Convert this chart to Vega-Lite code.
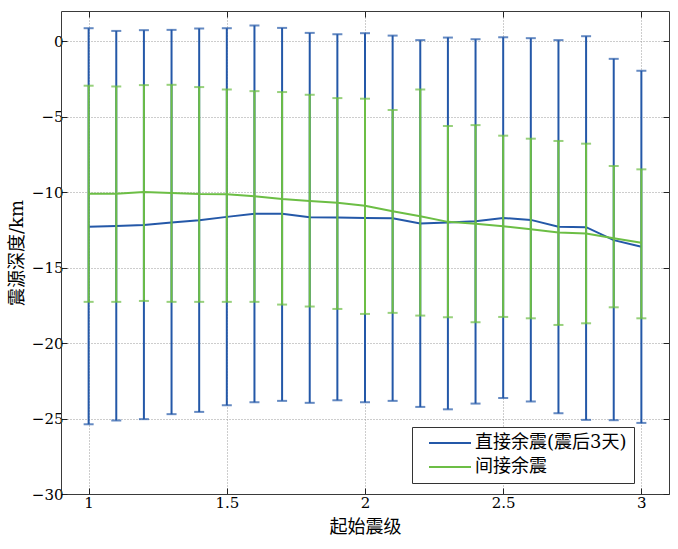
{
  "$schema": "https://vega.github.io/schema/vega-lite/v6.json",
  "autosize": "none",
  "width": 608,
  "height": 483,
  "padding": {"left": 61, "top": 11, "right": 9, "bottom": 55},
  "background": "white",
  "data": {
    "values": [
      {"m": 1.0, "s": "直接余震(震后3天)", "mean": -12.30, "lo": -25.38, "hi": 0.86},
      {"m": 1.1, "s": "直接余震(震后3天)", "mean": -12.24, "lo": -25.13, "hi": 0.68},
      {"m": 1.2, "s": "直接余震(震后3天)", "mean": -12.17, "lo": -25.04, "hi": 0.73},
      {"m": 1.3, "s": "直接余震(震后3天)", "mean": -12.01, "lo": -24.71, "hi": 0.75},
      {"m": 1.4, "s": "直接余震(震后3天)", "mean": -11.86, "lo": -24.56, "hi": 0.84},
      {"m": 1.5, "s": "直接余震(震后3天)", "mean": -11.64, "lo": -24.12, "hi": 0.86},
      {"m": 1.6, "s": "直接余震(震后3天)", "mean": -11.44, "lo": -23.92, "hi": 1.04},
      {"m": 1.7, "s": "直接余震(震后3天)", "mean": -11.44, "lo": -23.83, "hi": 0.88},
      {"m": 1.8, "s": "直接余震(震后3天)", "mean": -11.66, "lo": -23.96, "hi": 0.55},
      {"m": 1.9, "s": "直接余震(震后3天)", "mean": -11.68, "lo": -23.79, "hi": 0.46},
      {"m": 2.0, "s": "直接余震(震后3天)", "mean": -11.71, "lo": -23.92, "hi": 0.53},
      {"m": 2.1, "s": "直接余震(震后3天)", "mean": -11.73, "lo": -23.83, "hi": 0.37},
      {"m": 2.2, "s": "直接余震(震后3天)", "mean": -12.08, "lo": -24.23, "hi": 0.07},
      {"m": 2.3, "s": "直接余震(震后3天)", "mean": -12.01, "lo": -24.39, "hi": 0.24},
      {"m": 2.4, "s": "直接余震(震后3天)", "mean": -11.93, "lo": -24.01, "hi": 0.13},
      {"m": 2.5, "s": "直接余震(震后3天)", "mean": -11.71, "lo": -23.64, "hi": 0.26},
      {"m": 2.6, "s": "直接余震(震后3天)", "mean": -11.84, "lo": -23.87, "hi": 0.20},
      {"m": 2.7, "s": "直接余震(震后3天)", "mean": -12.30, "lo": -24.65, "hi": 0.07},
      {"m": 2.8, "s": "直接余震(震后3天)", "mean": -12.32, "lo": -25.09, "hi": 0.33},
      {"m": 2.9, "s": "直接余震(震后3天)", "mean": -13.18, "lo": -25.11, "hi": -1.17},
      {"m": 3.0, "s": "直接余震(震后3天)", "mean": -13.62, "lo": -25.29, "hi": -1.96},
      {"m": 1.0, "s": "间接余震", "mean": -10.10, "lo": -17.27, "hi": -2.95},
      {"m": 1.1, "s": "间接余震", "mean": -10.10, "lo": -17.27, "hi": -3.00},
      {"m": 1.2, "s": "间接余震", "mean": -9.99, "lo": -17.21, "hi": -2.91},
      {"m": 1.3, "s": "间接余震", "mean": -10.05, "lo": -17.27, "hi": -2.89},
      {"m": 1.4, "s": "间接余震", "mean": -10.12, "lo": -17.27, "hi": -3.04},
      {"m": 1.5, "s": "间接余震", "mean": -10.14, "lo": -17.27, "hi": -3.20},
      {"m": 1.6, "s": "间接余震", "mean": -10.27, "lo": -17.27, "hi": -3.31},
      {"m": 1.7, "s": "间接余震", "mean": -10.45, "lo": -17.45, "hi": -3.37},
      {"m": 1.8, "s": "间接余震", "mean": -10.58, "lo": -17.58, "hi": -3.55},
      {"m": 1.9, "s": "间接余震", "mean": -10.71, "lo": -17.74, "hi": -3.77},
      {"m": 2.0, "s": "间接余震", "mean": -10.91, "lo": -18.07, "hi": -3.81},
      {"m": 2.1, "s": "间接余震", "mean": -11.27, "lo": -18.00, "hi": -4.56},
      {"m": 2.2, "s": "间接余震", "mean": -11.60, "lo": -18.18, "hi": -3.20},
      {"m": 2.3, "s": "间接余震", "mean": -11.97, "lo": -18.29, "hi": -5.62},
      {"m": 2.4, "s": "间接余震", "mean": -12.10, "lo": -18.62, "hi": -5.56},
      {"m": 2.5, "s": "间接余震", "mean": -12.26, "lo": -18.27, "hi": -6.26},
      {"m": 2.6, "s": "间接余震", "mean": -12.46, "lo": -18.36, "hi": -6.46},
      {"m": 2.7, "s": "间接余震", "mean": -12.68, "lo": -18.80, "hi": -6.61},
      {"m": 2.8, "s": "间接余震", "mean": -12.74, "lo": -18.69, "hi": -6.79},
      {"m": 2.9, "s": "间接余震", "mean": -13.05, "lo": -17.63, "hi": -8.27},
      {"m": 3.0, "s": "间接余震", "mean": -13.36, "lo": -18.36, "hi": -8.49}
    ]
  },
  "config": {
    "view": {"stroke": null},
    "axis": {
      "domainColor": "#3a3a3a",
      "domainWidth": 1,
      "tickColor": "#222222",
      "tickSize": -6,
      "tickWidth": 1,
      "gridColor": "#9a9a9a",
      "gridDash": [1, 2],
      "gridOpacity": 1,
      "gridWidth": 1,
      "labelFont": "DejaVu Serif",
      "labelFontSize": 15,
      "labelColor": "black",
      "titleFont": "DejaVu Serif, Noto Sans CJK SC",
      "titleFontSize": 18,
      "titleFontWeight": "normal",
      "titleColor": "black"
    },
    "tick": {"thickness": 2, "size": 10},
    "legend": {
      "orient": "none",
      "legendX": 351,
      "legendY": 416,
      "symbolType": "M-3,0H3",
      "symbolSize": 196,
      "symbolStrokeWidth": 2,
      "symbolOffset": 22,
      "labelOffset": 16,
      "labelFont": "DejaVu Serif, Noto Sans CJK SC",
      "labelFontSize": 18,
      "labelColor": "black",
      "labelLimit": 400,
      "strokeColor": "#333333",
      "fillColor": "white",
      "padding": 7,
      "rowPadding": 6
    }
  },
  "resolve": {"axis": {"x": "independent", "y": "independent"}},
  "layer": [
    {
      "transform": [{"filter": "datum.s === '直接余震(震后3天)'"}],
      "mark": {"type": "rule", "strokeWidth": 2, "color": "#2458A8"},
      "encoding": {
        "x": {"field": "m", "type": "quantitative", "scale": {"domain": [0.9, 3.1], "nice": false, "zero": false},
              "axis": {"orient": "bottom", "values": [1, 1.5, 2, 2.5, 3], "format": "~g", "title": "起始震级", "labelPadding": 7, "titlePadding": 8}},
        "y": {"field": "lo", "type": "quantitative", "scale": {"domain": [-30, 2], "nice": false, "zero": false},
              "axis": {"orient": "left", "values": [-30, -25, -20, -15, -10, -5, 0], "title": "震源深度/km", "labelPadding": 4, "titlePadding": 5}},
        "y2": {"field": "hi"}
      }
    },
    {
      "transform": [{"filter": "datum.s === '直接余震(震后3天)'"}],
      "mark": {"type": "tick", "orient": "horizontal", "color": "#2458A8"},
      "encoding": {
        "x": {"field": "m", "type": "quantitative", "axis": null},
        "y": {"field": "lo", "type": "quantitative", "axis": null}
      }
    },
    {
      "transform": [{"filter": "datum.s === '直接余震(震后3天)'"}],
      "mark": {"type": "tick", "orient": "horizontal", "color": "#2458A8"},
      "encoding": {
        "x": {"field": "m", "type": "quantitative", "axis": null},
        "y": {"field": "hi", "type": "quantitative", "axis": null}
      }
    },
    {
      "transform": [{"filter": "datum.s === '直接余震(震后3天)'"}],
      "mark": {"type": "line", "strokeWidth": 2},
      "encoding": {
        "x": {"field": "m", "type": "quantitative", "axis": null},
        "y": {"field": "mean", "type": "quantitative", "axis": null},
        "color": {"field": "s", "type": "nominal",
                  "scale": {"domain": ["直接余震(震后3天)", "间接余震"], "range": ["#2458A8", "#6CBE45"]},
                  "legend": {"title": null}}
      }
    },
    {
      "transform": [{"filter": "datum.s === '间接余震'"}],
      "mark": {"type": "rule", "strokeWidth": 2, "color": "#6CBE45"},
      "encoding": {
        "x": {"field": "m", "type": "quantitative", "axis": null},
        "y": {"field": "lo", "type": "quantitative", "axis": null},
        "y2": {"field": "hi"}
      }
    },
    {
      "transform": [{"filter": "datum.s === '间接余震'"}],
      "mark": {"type": "tick", "orient": "horizontal", "color": "#6CBE45"},
      "encoding": {
        "x": {"field": "m", "type": "quantitative", "axis": null},
        "y": {"field": "lo", "type": "quantitative", "axis": null}
      }
    },
    {
      "transform": [{"filter": "datum.s === '间接余震'"}],
      "mark": {"type": "tick", "orient": "horizontal", "color": "#6CBE45"},
      "encoding": {
        "x": {"field": "m", "type": "quantitative", "axis": null},
        "y": {"field": "hi", "type": "quantitative", "axis": null}
      }
    },
    {
      "transform": [{"filter": "datum.s === '间接余震'"}],
      "mark": {"type": "line", "strokeWidth": 2},
      "encoding": {
        "x": {"field": "m", "type": "quantitative",
              "axis": {"orient": "top", "values": [1, 1.5, 2, 2.5, 3], "labels": false, "grid": false, "title": null}},
        "y": {"field": "mean", "type": "quantitative",
              "axis": {"orient": "right", "values": [-30, -25, -20, -15, -10, -5, 0], "labels": false, "grid": false, "title": null}},
        "color": {"field": "s", "type": "nominal",
                  "scale": {"domain": ["直接余震(震后3天)", "间接余震"], "range": ["#2458A8", "#6CBE45"]},
                  "legend": {"title": null}}
      }
    }
  ]
}
